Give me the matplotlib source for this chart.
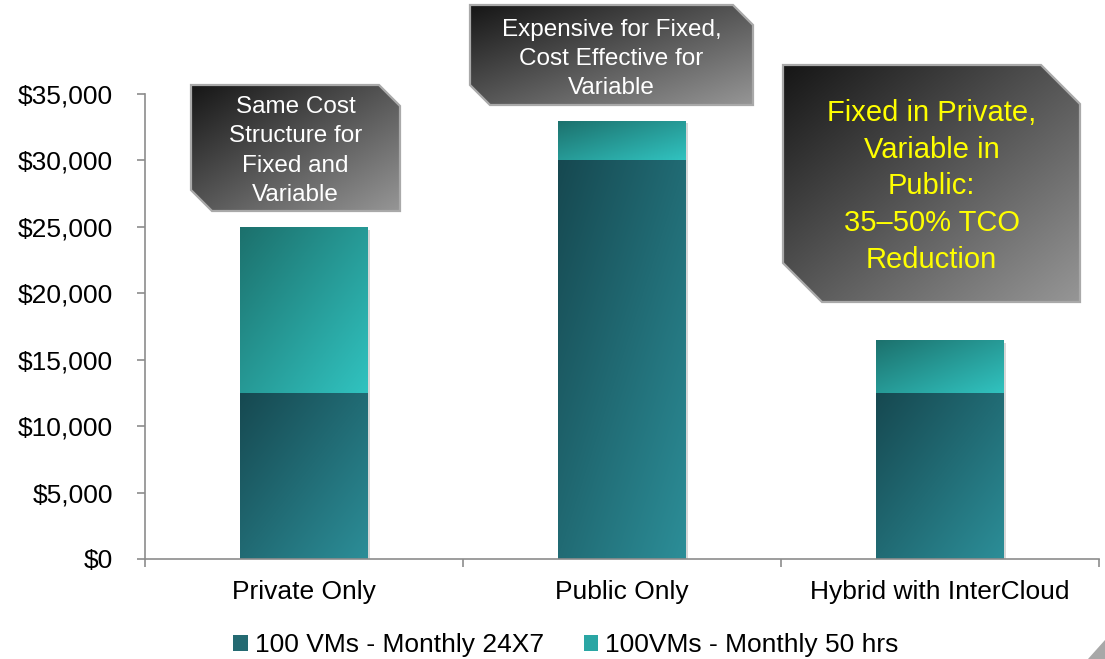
import numpy as np
import matplotlib
matplotlib.use("Agg")
import matplotlib.pyplot as plt
from matplotlib.patches import Polygon, Patch
import matplotlib.patheffects as pe

# ---------------- data ----------------
categories = ["Private Only", "Public Only", "Hybrid with InterCloud"]
monthly_24x7 = [12500, 30000, 12500]
monthly_50hrs = [12500, 3000, 4000]
series_labels = ["100 VMs - Monthly 24X7", "100VMs - Monthly 50 hrs"]
y_ticks = [0, 5000, 10000, 15000, 20000, 25000, 30000, 35000]
y_tick_labels = ["$0", "$5,000", "$10,000", "$15,000", "$20,000", "$25,000", "$30,000", "$35,000"]

callout_texts = [
    "Same Cost\nStructure for\nFixed and\nVariable",
    "Expensive for Fixed,\nCost Effective for\nVariable",
    "Fixed in Private,\nVariable in\nPublic:\n35\u201350% TCO\nReduction",
]

# ---------------- style ----------------
plt.rcParams["font.family"] = ["Liberation Sans", "DejaVu Sans"]
W, H = 1105, 659
fig = plt.figure(figsize=(W / 100, H / 100), dpi=100)
fig.patch.set_facecolor("white")

ax = fig.add_axes([145 / W, 1 - 559 / H, (1099 - 145) / W, (559 - 94) / H])
ax.patch.set_visible(False)

x = np.arange(len(categories))
bw = 0.4
shadow = [pe.SimplePatchShadow(offset=(2, -2), shadow_rgbFace=(0.3, 0.3, 0.3), alpha=0.22), pe.Normal()]
bars_low = ax.bar(x, monthly_24x7, width=bw, color="none", edgecolor="none", zorder=2)
bars_up = ax.bar(x, monthly_50hrs, bottom=monthly_24x7, width=bw, color="none", edgecolor="none", zorder=2)

low_c = (np.array([22, 72, 80]) / 255, np.array([44, 142, 152]) / 255)
up_c = (np.array([28, 112, 108]) / 255, np.array([49, 195, 192]) / 255)


def gradient_image(c0, c1, n=256):
    u = np.linspace(0, 1, n)
    U, V = np.meshgrid(u, u)
    t = (U + V) / 2.0
    return c0[None, None, :] + (c1 - c0)[None, None, :] * t[..., None]


def fill_bar(ax, patch, cols, z):
    x0, y0 = patch.get_x(), patch.get_y()
    w, h = patch.get_width(), patch.get_height()
    patch.set_path_effects(shadow)
    im = ax.imshow(gradient_image(*cols), extent=(x0, x0 + w, y0, y0 + h),
                   origin="upper", aspect="auto", zorder=z, interpolation="bilinear")
    im.set_clip_path(patch)


for p in bars_low:
    fill_bar(ax, p, low_c, 2.5)
for p in bars_up:
    fill_bar(ax, p, up_c, 2.5)

ax.set_xlim(-0.5, len(categories) - 0.5)
ax.set_ylim(0, 35000)

axis_gray = "#8c8c8c"
for s in ["top", "right"]:
    ax.spines[s].set_visible(False)
for s in ["left", "bottom"]:
    ax.spines[s].set_color(axis_gray)
    ax.spines[s].set_linewidth(1.2)

ax.set_yticks(y_ticks)
ax.set_yticklabels(y_tick_labels)
ax.tick_params(axis="y", direction="out", length=6, width=1.2, color=axis_gray,
               labelsize=19, pad=17, labelcolor="black")

ax.set_xticks(x)
ax.set_xticklabels(categories)
ax.set_xticks(np.arange(len(categories) + 1) - 0.5, minor=True)
ax.tick_params(axis="x", which="major", length=0, labelsize=19, pad=15, labelcolor="black")
ax.tick_params(axis="x", which="minor", direction="out", length=6, width=1.2, color=axis_gray)

# legend
handles = [Patch(facecolor="#246a72", edgecolor="none"), Patch(facecolor="#2aa6a4", edgecolor="none")]
fig.legend(handles, series_labels, loc="center", bbox_to_anchor=(566 / W, 1 - 645 / H),
           ncol=2, frameon=False, fontsize=19, handlelength=0.55, handleheight=0.55,
           handletextpad=0.27, columnspacing=1.5, borderpad=0, borderaxespad=0)

# ---------------- callouts (pixel overlay) ----------------
oax = fig.add_axes([0, 0, 1, 1])
oax.set_xlim(0, W)
oax.set_ylim(H, 0)
oax.axis("off")
oax.patch.set_visible(False)

box_c = (np.array([22, 22, 22]) / 255, np.array([150, 150, 150]) / 255)
boxes = [
    # (left, top, right, bottom, cut, text y offset)
    (191, 85, 400, 211, 21, 3),
    (470, 5, 753, 105, 20, 4),
    (783, 65, 1080, 302, 39, 3),
]
text_styles = [
    dict(color="white", fontsize=17.5, linespacing=1.42),
    dict(color="white", fontsize=17.5, linespacing=1.42),
    dict(color="#ffff00", fontsize=21, linespacing=1.4),
]

for (l, t, r, b, c, dy), txt, st in zip(boxes, callout_texts, text_styles):
    verts = [(l, t), (r - c, t), (r, t + c), (r, b), (l + c, b), (l, b - c)]
    poly = Polygon(verts, closed=True, facecolor="none", edgecolor="#a9a9a9", lw=1.6, zorder=5)
    oax.add_patch(poly)
    im = oax.imshow(gradient_image(*box_c), extent=(l, r, b, t), origin="upper",
                    aspect="auto", zorder=4, interpolation="bilinear")
    im.set_clip_path(poly)
    oax.text((l + r) / 2, (t + b) / 2 + dy, txt, ha="center", va="center",
             zorder=6, **st)

# page curl corner
oax.add_patch(Polygon([(1088, 659), (1105, 640), (1105, 659)], closed=True,
                      facecolor="#a8a8a8", edgecolor="none", zorder=6))
oax.set_xlim(0, W)
oax.set_ylim(H, 0)

fig.savefig("out.png", dpi=100)
